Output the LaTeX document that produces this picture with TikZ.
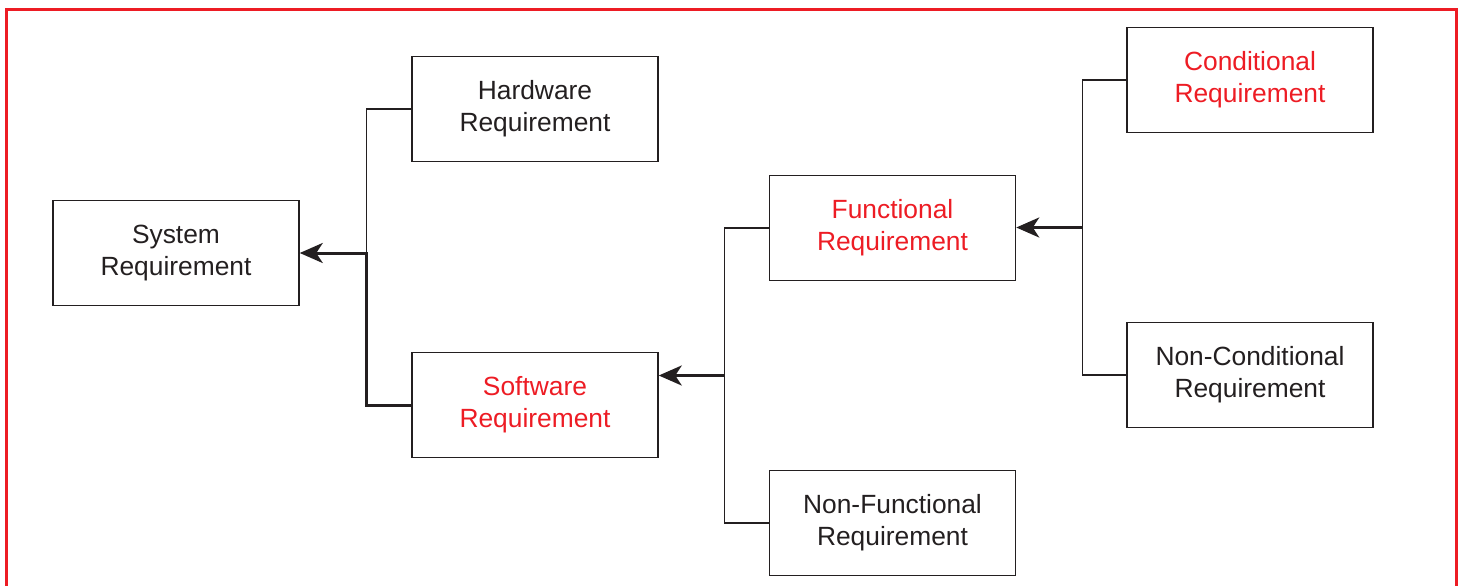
\documentclass[tikz,border=0pt]{standalone}
\usepackage{fontspec}
\setmainfont{Liberation Sans}
\usetikzlibrary{positioning,arrows.meta,calc}
\definecolor{rosu}{HTML}{ED1C24}
\definecolor{negru}{HTML}{231F20}
\tikzset{
  req/.style     = {draw=negru, line width=0.3mm, align=center, inner sep=2pt,
                    minimum width=49.2mm, minimum height=21mm, text=negru,
                    font=\fontsize{15pt}{18.2pt}\selectfont},
  reqred/.style  = {req, text=rosu},
  wire/.style    = {draw=negru, line width=0.25mm},
  pointer/.style = {-{Stealth[length=4.6mm, width=4mm, inset=1.3mm]}, draw=negru, line width=0.6mm}
}

\begin{document}
\begin{tikzpicture}[node distance=6mm and 22mm]
	\useasboundingbox (0,0) rectangle (292.6mm,-117.2mm);
	% red frame, open at the bottom
	\draw[rosu, line width=0.6mm] (1.2mm,-117.2mm) -- (1.2mm,-1.8mm) -- (291.3mm,-1.8mm) -- (291.3mm,-117.2mm);

	\node[req] (sys) at (35.2mm,-50.6mm) {System\\ Requirement};
	\node[req, right=22.3mm of sys, yshift=28.8mm] (hw) {Hardware\\ Requirement};
	\node[reqred, right=22.3mm of sys, yshift=-30.4mm] (sw) {Software\\ Requirement};
	\node[reqred, right=of sw, yshift=35.4mm] (fn) {Functional\\ Requirement};
	\node[req, right=of sw, yshift=-23.6mm] (nf) {Non-Functional\\ Requirement};
	\node[reqred, right=of fn, yshift=29.6mm] (cond) {Conditional\\ Requirement};
	\node[req, right=of fn, yshift=-29.4mm] (ncond) {Non-Conditional\\ Requirement};

	% branch points
	\coordinate (j1) at ([xshift=-9mm]hw.west |- sys.east);
	\coordinate (j2) at ($(fn.west)!0.5!(nf.west) + (-8.8mm,0)$);
	\coordinate (j3) at ($(cond.west)!0.5!(ncond.west) + (-8.8mm,0)$);

	\draw[wire] (hw.west) -| (j1);
	\draw[pointer] (sw.west) -| (j1) -- (sys.east);

	\draw[wire] (fn.west) -| (j2) |- (nf.west);
	\draw[pointer] (j2) -- (j2 -| sw.east);

	\draw[wire] (cond.west) -| (j3) |- (ncond.west);
	\draw[pointer] (j3) -- (j3 -| fn.east);
\end{tikzpicture}
\end{document}
